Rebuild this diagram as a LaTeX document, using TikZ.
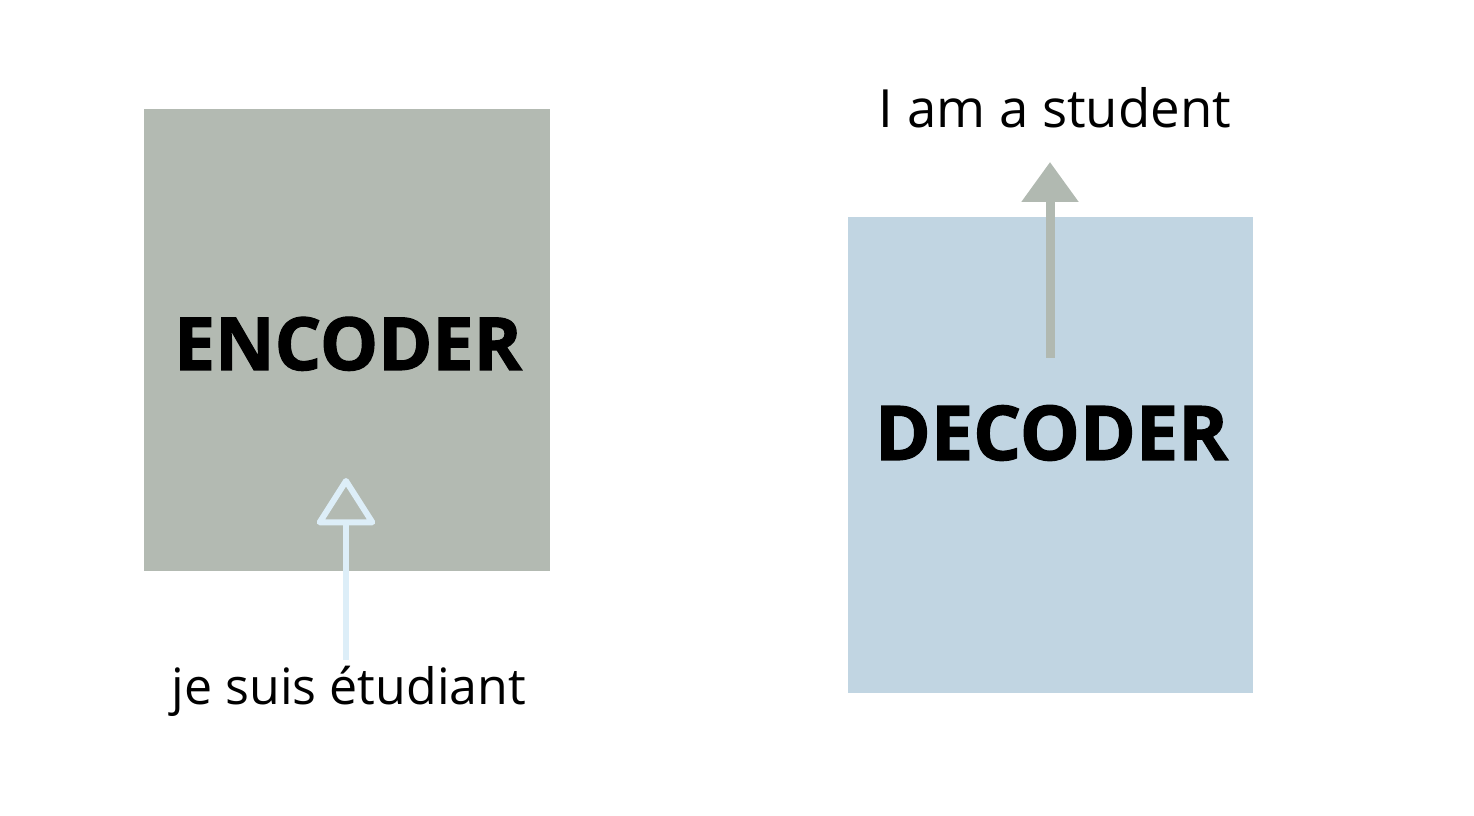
\documentclass[tikz,border=0pt]{standalone}
\usepackage{fontspec}
\setmainfont{Open Sans}
\newfontfamily\heavyfont{Open Sans}[BoldFeatures={FakeBold=1.6}]
\usepackage{xcolor}
\usetikzlibrary{arrows.meta}
\definecolor{encgray}{HTML}{B3BAB2}
\definecolor{decblue}{HTML}{C1D5E2}
\definecolor{arrowgray}{HTML}{B1B9B1}
\definecolor{arrowpale}{HTML}{DDEEF8}

\begin{document}
\begin{tikzpicture}
\useasboundingbox(0,0)rectangle(29.48,16.32);
\node[fill=encgray,minimum width=8.12cm,minimum height=9.24cm,inner sep=0pt](enc)at(6.94,9.52){};
\node[fill=decblue,minimum width=8.1cm,minimum height=9.52cm,inner sep=0pt](dec)at(21.01,7.22){};
\node[anchor=base,font=\fontsize{41.7}{42}\heavyfont\bfseries](enclabel)at(6.96,8.92){ENCODER};
\node[anchor=base,font=\fontsize{43}{43}\heavyfont\bfseries](declabel)at(21.03,7.12){DECODER};
\node[anchor=base,font=\fontsize{28.5}{29}\selectfont](src)at(6.98,2.22){je suis étudiant};
\node[anchor=base,font=\fontsize{30}{30}\selectfont](tgt)at(21.1,13.76){I am a student};
\coordinate(encfoot)at(6.92,3.12);
\coordinate(enctip)at(6.92,6.76);
\coordinate(decfoot)at(21.0,9.16);
\coordinate(dectip)at(21.0,13.08);
\draw[arrowpale,line width=0.12cm,line join=round,-{Triangle[open,length=1.0cm,width=1.24cm,round]}](encfoot)--(enctip);
\draw[arrowgray,line width=0.18cm,-{Triangle[length=0.8cm,width=1.1cm]}](decfoot)--(dectip);
\end{tikzpicture}
\end{document}
